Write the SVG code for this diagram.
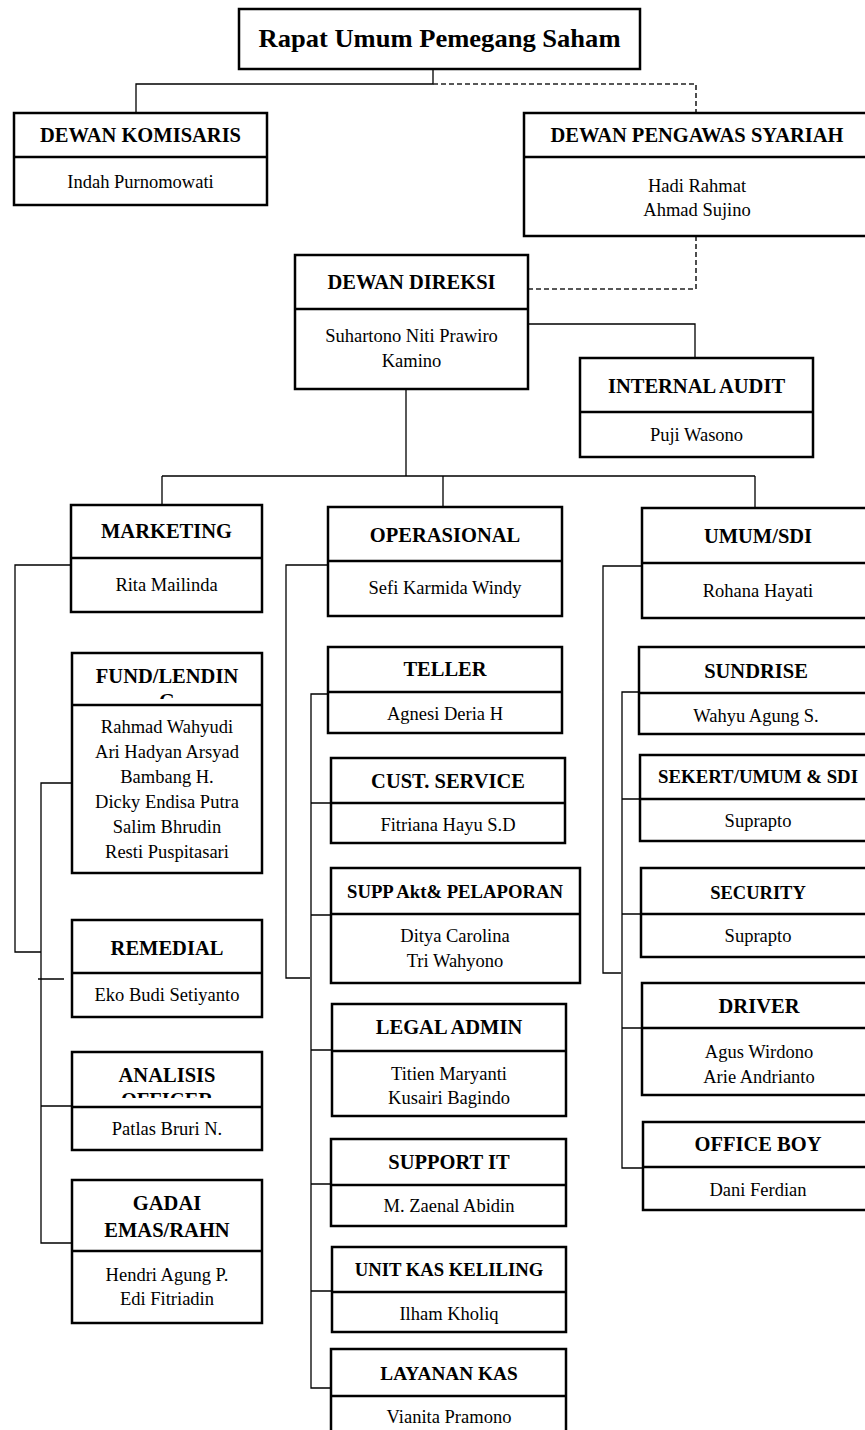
<svg xmlns="http://www.w3.org/2000/svg" width="865" height="1430" viewBox="0 0 865 1430">
<style>
.box{fill:#fff;stroke:#000;stroke-width:2.5}
.dv{stroke:#000;stroke-width:2.5}
.t{font-family:"Liberation Serif","Times New Roman",serif;font-weight:bold;font-size:20.5px;text-anchor:middle;fill:#000}
.n{font-family:"Liberation Serif","Times New Roman",serif;font-size:18.5px;text-anchor:middle;fill:#000}
.c{stroke:#000;stroke-width:1.3;fill:none}
.d{stroke:#222;stroke-width:1.6;stroke-dasharray:5 3;fill:none}
</style>
<defs>
<clipPath id="clipFund"><rect x="72" y="653" width="190" height="46"/></clipPath>
<clipPath id="clipAnal"><rect x="72" y="1052" width="190" height="46"/></clipPath>
</defs>
<rect width="865" height="1430" fill="#fff"/>
<g id="connectors">
<path class="c" d="M433,69 V84 H136 V113"/>
<path class="d" d="M433,84 H696 V113"/>
<path class="d" d="M696,236 V289 H528"/>
<path class="c" d="M528,324 H695 V358"/>
<path class="c" d="M406,389 V476 M162,476 H755 M162,476 V505 M443,476 V507 M755,476 V508"/>
<path class="c" d="M71,565 H15 V952 H41 M71,783 H41 V1243 H72 M38,979 H64 M41,1106 H72"/>
<path class="c" d="M328,565 H286 V978 H310 M328,694 H311 V1388 H331 M311,803 H331 M311,915 H331 M311,1050 H332 M311,1184 H331 M311,1291 H332"/>
<path class="c" d="M642,566 H603 V973 H621 M639,692 H622 V1168 H643 M622,799 H640 M622,914 H641 M622,1028 H642"/>
</g>
<g id="rups">
<rect class="box" x="239" y="9" width="401" height="60"/>
<text class="t" x="439.5" y="47" style="font-size:26px" textLength="362" lengthAdjust="spacingAndGlyphs">Rapat Umum Pemegang Saham</text>
</g>
<g id="dewan-komisaris">
<rect class="box" x="14" y="113" width="253" height="92"/>
<line class="dv" x1="14" y1="157" x2="267" y2="157"/>
<text class="t" x="140.5" y="142">DEWAN KOMISARIS</text>
<text class="n" x="140.5" y="188">Indah Purnomowati</text>
</g>
<g id="dewan-pengawas-syariah">
<rect class="box" x="524" y="113" width="346" height="123"/>
<line class="dv" x1="524" y1="157" x2="870" y2="157"/>
<text class="t" x="697" y="142">DEWAN PENGAWAS SYARIAH</text>
<text class="n" x="697" y="192">Hadi Rahmat</text>
<text class="n" x="697" y="216">Ahmad Sujino</text>
</g>
<g id="dewan-direksi">
<rect class="box" x="295" y="255" width="233" height="134"/>
<line class="dv" x1="295" y1="309" x2="528" y2="309"/>
<text class="t" x="411.5" y="289">DEWAN DIREKSI</text>
<text class="n" x="411.5" y="342">Suhartono Niti Prawiro</text>
<text class="n" x="411.5" y="367">Kamino</text>
</g>
<g id="internal-audit">
<rect class="box" x="580" y="358" width="233" height="99"/>
<line class="dv" x1="580" y1="412" x2="813" y2="412"/>
<text class="t" x="696.5" y="393">INTERNAL AUDIT</text>
<text class="n" x="696.5" y="441">Puji Wasono</text>
</g>
<g id="marketing">
<rect class="box" x="71" y="505" width="191" height="107"/>
<line class="dv" x1="71" y1="558" x2="262" y2="558"/>
<text class="t" x="166.5" y="538">MARKETING</text>
<text class="n" x="166.5" y="591">Rita Mailinda</text>
</g>
<g id="fund-lending">
<rect class="box" x="72" y="653" width="190" height="220"/>
<g clip-path="url(#clipFund)">
<text class="t" x="167" y="683">FUND/LENDIN</text>
<text class="t" x="167" y="708">G</text>
</g>
<line class="dv" x1="72" y1="705" x2="262" y2="705"/>
<text class="n" x="167" y="733">Rahmad Wahyudi</text>
<text class="n" x="167" y="758">Ari Hadyan Arsyad</text>
<text class="n" x="167" y="783">Bambang H.</text>
<text class="n" x="167" y="808">Dicky Endisa Putra</text>
<text class="n" x="167" y="833">Salim Bhrudin</text>
<text class="n" x="167" y="858">Resti Puspitasari</text>
</g>
<g id="remedial">
<rect class="box" x="72" y="920" width="190" height="97"/>
<line class="dv" x1="72" y1="973" x2="262" y2="973"/>
<text class="t" x="167" y="955">REMEDIAL</text>
<text class="n" x="167" y="1001">Eko Budi Setiyanto</text>
</g>
<g id="analisis-officer">
<rect class="box" x="72" y="1052" width="190" height="98"/>
<g clip-path="url(#clipAnal)">
<text class="t" x="167" y="1082">ANALISIS</text>
<text class="t" x="167" y="1107">OFFICER</text>
</g>
<line class="dv" x1="72" y1="1107" x2="262" y2="1107"/>
<text class="n" x="167" y="1135">Patlas Bruri N.</text>
</g>
<g id="gadai-emas">
<rect class="box" x="72" y="1180" width="190" height="143"/>
<line class="dv" x1="72" y1="1251" x2="262" y2="1251"/>
<text class="t" x="167" y="1210">GADAI</text>
<text class="t" x="167" y="1237">EMAS/RAHN</text>
<text class="n" x="167" y="1281">Hendri Agung P.</text>
<text class="n" x="167" y="1305">Edi Fitriadin</text>
</g>
<g id="operasional">
<rect class="box" x="328" y="507" width="234" height="109"/>
<line class="dv" x1="328" y1="561" x2="562" y2="561"/>
<text class="t" x="445" y="542">OPERASIONAL</text>
<text class="n" x="445" y="594">Sefi Karmida Windy</text>
</g>
<g id="teller">
<rect class="box" x="328" y="647" width="234" height="86"/>
<line class="dv" x1="328" y1="692" x2="562" y2="692"/>
<text class="t" x="445" y="676">TELLER</text>
<text class="n" x="445" y="720">Agnesi Deria H</text>
</g>
<g id="cust-service">
<rect class="box" x="331" y="758" width="234" height="85"/>
<line class="dv" x1="331" y1="803" x2="565" y2="803"/>
<text class="t" x="448" y="788">CUST. SERVICE</text>
<text class="n" x="448" y="831">Fitriana Hayu S.D</text>
</g>
<g id="supp-akt">
<rect class="box" x="331" y="868" width="249" height="115"/>
<line class="dv" x1="331" y1="914" x2="580" y2="914"/>
<text class="t" x="455" y="898" style="font-size:18.7px">SUPP Akt&amp; PELAPORAN</text>
<text class="n" x="455" y="942">Ditya Carolina</text>
<text class="n" x="455" y="967">Tri Wahyono</text>
</g>
<g id="legal-admin">
<rect class="box" x="332" y="1004" width="234" height="112"/>
<line class="dv" x1="332" y1="1051" x2="566" y2="1051"/>
<text class="t" x="449" y="1034">LEGAL ADMIN</text>
<text class="n" x="449" y="1080">Titien Maryanti</text>
<text class="n" x="449" y="1104">Kusairi Bagindo</text>
</g>
<g id="support-it">
<rect class="box" x="331" y="1139" width="235" height="87"/>
<line class="dv" x1="331" y1="1185" x2="566" y2="1185"/>
<text class="t" x="449" y="1169">SUPPORT IT</text>
<text class="n" x="449" y="1212">M. Zaenal Abidin</text>
</g>
<g id="unit-kas-keliling">
<rect class="box" x="332" y="1247" width="234" height="85"/>
<line class="dv" x1="332" y1="1292" x2="566" y2="1292"/>
<text class="t" x="449" y="1276" style="font-size:18.7px">UNIT KAS KELILING</text>
<text class="n" x="449" y="1320">Ilham Kholiq</text>
</g>
<g id="layanan-kas">
<rect class="box" x="331" y="1349" width="235" height="100"/>
<line class="dv" x1="331" y1="1396" x2="566" y2="1396"/>
<text class="t" x="449" y="1380" style="font-size:19.3px">LAYANAN KAS</text>
<text class="n" x="449" y="1423">Vianita Pramono</text>
</g>
<g id="umum-sdi">
<rect class="box" x="642" y="508" width="228" height="110"/>
<line class="dv" x1="642" y1="563" x2="870" y2="563"/>
<text class="t" x="758" y="543">UMUM/SDI</text>
<text class="n" x="758" y="597">Rohana Hayati</text>
</g>
<g id="sundrise">
<rect class="box" x="639" y="647" width="231" height="87"/>
<line class="dv" x1="639" y1="693" x2="870" y2="693"/>
<text class="t" x="756" y="678">SUNDRISE</text>
<text class="n" x="756" y="722">Wahyu Agung S.</text>
</g>
<g id="sekert-umum-sdi">
<rect class="box" x="640" y="755" width="230" height="86"/>
<line class="dv" x1="640" y1="799" x2="870" y2="799"/>
<text class="t" x="758" y="783" style="font-size:18.5px" textLength="200" lengthAdjust="spacingAndGlyphs">SEKERT/UMUM &amp; SDI</text>
<text class="n" x="758" y="827">Suprapto</text>
</g>
<g id="security">
<rect class="box" x="641" y="868" width="229" height="89"/>
<line class="dv" x1="641" y1="914" x2="870" y2="914"/>
<text class="t" x="758" y="899" style="font-size:18.5px">SECURITY</text>
<text class="n" x="758" y="942">Suprapto</text>
</g>
<g id="driver">
<rect class="box" x="642" y="983" width="228" height="112"/>
<line class="dv" x1="642" y1="1028" x2="870" y2="1028"/>
<text class="t" x="759" y="1013">DRIVER</text>
<text class="n" x="759" y="1058">Agus Wirdono</text>
<text class="n" x="759" y="1083">Arie Andrianto</text>
</g>
<g id="office-boy">
<rect class="box" x="643" y="1122" width="227" height="88"/>
<line class="dv" x1="643" y1="1167" x2="870" y2="1167"/>
<text class="t" x="758" y="1151">OFFICE BOY</text>
<text class="n" x="758" y="1196">Dani Ferdian</text>
</g>
</svg>
